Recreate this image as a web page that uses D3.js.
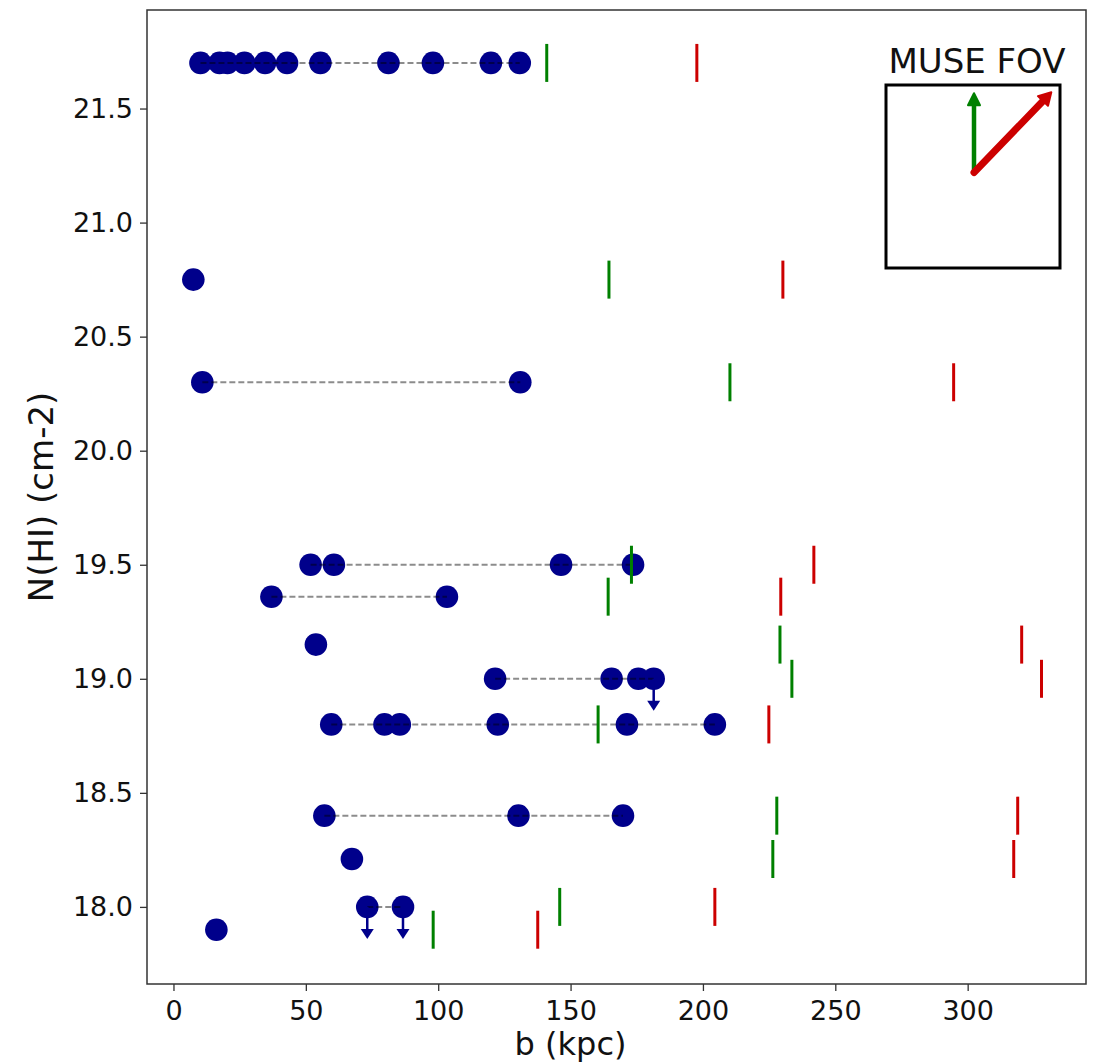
<!DOCTYPE html>
<html>
<head>
<meta charset="utf-8">
<script src="https://cdn.jsdelivr.net/npm/d3@7"></script>
<style>
  html, body { margin: 0; padding: 0; background: #fff; }
  svg { display: block; font-family: "DejaVu Sans", sans-serif; }
</style>
</head>
<body>
<svg id="chart" width="1094" height="1063"></svg>
<script>
// Column density of each absorber (log N(HI), cm-2)
const nhi = [21.7, 20.75, 20.3, 19.5, 19.36, 19.15, 19.0, 18.8, 18.4, 18.21, 18.0, 17.9];

// Impact parameters (kpc) of the galaxies found around each absorber
const impactParams = [
  [10.2, 17.4, 20.4, 26.8, 34.6, 42.9, 55.5, 81.2, 98.0, 119.9, 130.8],
  [7.5],
  [10.9, 131.0],
  [51.8, 60.6, 146.4, 173.6],
  [37.0, 103.3],
  [53.8],
  [121.5, 165.5, 175.6, 181.4],
  [59.6, 79.7, 85.5, 122.5, 171.3, 204.5],
  [57.0, 130.3, 169.8],
  [67.4],
  [73.2, 86.7],
  [16.2]
];

// Galaxies whose N(HI) is only an upper limit: [row index, impact parameter]
const upperLimits = [[6, 181.4], [10, 73.2], [10, 86.7]];

// MUSE field-of-view reach at each absorber redshift (kpc)
const fovHalfSide = [141.0, 164.5, 210.2, 173.0, 164.2, 229.1, 233.6, 160.4, 227.9, 226.4, 145.9, 98.1];
const fovHalfDiag = [197.7, 230.2, 294.7, 241.9, 229.4, 320.4, 327.9, 224.9, 318.9, 317.4, 204.5, 137.6];

const xTicks = [0, 50, 100, 150, 200, 250, 300];
const yTicks = [18.0, 18.5, 19.0, 19.5, 20.0, 20.5, 21.0, 21.5];

const svg = d3.select("#chart");
const frame = { left: 147, right: 1086, top: 10, bottom: 984 };

const x = d3.scaleLinear().domain([-10.0, 344.7]).range([frame.left, frame.right]);
const y = d3.scaleLinear().domain([17.662, 21.932]).range([frame.bottom, frame.top]);

const DOT = "#00008b", GREEN = "#008000", RED = "#cc0000";

// axes
const xAxis = svg.append("g")
  .attr("transform", `translate(0,${frame.bottom})`)
  .call(d3.axisBottom(x).tickValues(xTicks).tickFormat(d3.format("d")).tickSizeOuter(0).tickSize(7).tickPadding(5));
const yAxis = svg.append("g")
  .attr("transform", `translate(${frame.left},0)`)
  .call(d3.axisLeft(y).tickValues(yTicks).tickFormat(d3.format(".1f")).tickSizeOuter(0).tickSize(7).tickPadding(7));
[xAxis, yAxis].forEach(g => {
  g.select(".domain").remove();
  g.selectAll(".tick line").attr("stroke", "#333").attr("stroke-width", 1.3);
  g.selectAll(".tick text").attr("fill", "#111").style("font-size", "27px").style("font-family", "DejaVu Sans");
});
xAxis.selectAll(".tick text").attr("dy", "0.9em");

// frame
svg.append("rect")
  .attr("x", frame.left).attr("y", frame.top)
  .attr("width", frame.right - frame.left).attr("height", frame.bottom - frame.top)
  .attr("fill", "none").attr("stroke", "#333").attr("stroke-width", 1.5);

// axis titles
svg.append("text")
  .attr("x", x(150)).attr("y", 1055)
  .attr("text-anchor", "middle").style("font-size", "32px").attr("fill", "#111")
  .text("b (kpc)");
svg.append("text")
  .attr("transform", `translate(53,${(frame.top + frame.bottom) / 2}) rotate(-90)`)
  .attr("text-anchor", "middle").style("font-size", "34px").attr("fill", "#111")
  .text("N(HI) (cm-2)");

const plot = svg.append("g");

// galaxies
impactParams.forEach((bs, i) => {
  plot.selectAll(null).data(bs).enter().append("circle")
    .attr("cx", d => x(d)).attr("cy", y(nhi[i])).attr("r", 11.3)
    .attr("fill", DOT);
});

// dashed links between galaxies of the same absorber
impactParams.forEach((bs, i) => {
  if (bs.length < 2) return;
  plot.append("line")
    .attr("x1", x(d3.min(bs))).attr("x2", x(d3.max(bs)))
    .attr("y1", y(nhi[i])).attr("y2", y(nhi[i]))
    .attr("stroke", "#000").attr("stroke-opacity", 0.45)
    .attr("stroke-width", 2).attr("stroke-dasharray", "6,3");
});

// upper-limit arrows
upperLimits.forEach(([i, b]) => {
  const cx = x(b), cy = y(nhi[i]);
  plot.append("line")
    .attr("x1", cx).attr("x2", cx).attr("y1", cy).attr("y2", cy + 24)
    .attr("stroke", DOT).attr("stroke-width", 2.5);
  plot.append("path")
    .attr("d", `M${cx - 6.5},${cy + 22} L${cx + 6.5},${cy + 22} L${cx},${cy + 32} Z`)
    .attr("fill", DOT);
});

// FOV limits
const half = 19;
nhi.forEach((n, i) => {
  plot.append("line")
    .attr("x1", x(fovHalfSide[i])).attr("x2", x(fovHalfSide[i]))
    .attr("y1", y(n) - half).attr("y2", y(n) + half)
    .attr("stroke", GREEN).attr("stroke-width", 3);
  plot.append("line")
    .attr("x1", x(fovHalfDiag[i])).attr("x2", x(fovHalfDiag[i]))
    .attr("y1", y(n) - half).attr("y2", y(n) + half)
    .attr("stroke", RED).attr("stroke-width", 3);
});

// MUSE FOV sketch
const ix = d3.scaleLinear().domain([-1, 1]).range([886, 1060]);
const iy = d3.scaleLinear().domain([-1, 1]).range([268, 85]);
svg.append("text")
  .attr("x", 977).attr("y", 73)
  .attr("text-anchor", "middle").style("font-size", "34px").attr("fill", "#111")
  .text("MUSE FOV");
svg.append("rect")
  .attr("x", ix(-1)).attr("y", iy(1))
  .attr("width", ix(1) - ix(-1)).attr("height", iy(-1) - iy(1))
  .attr("fill", "none").attr("stroke", "#000").attr("stroke-width", 3);

function arrow(x0, y0, x1, y1, color, w, headL, headW) {
  const dx = x1 - x0, dy = y1 - y0, L = Math.hypot(dx, dy);
  const ux = dx / L, uy = dy / L;
  const bx = x1 - ux * headL, by = y1 - uy * headL;
  svg.append("line")
    .attr("x1", x0).attr("y1", y0).attr("x2", bx).attr("y2", by)
    .attr("stroke", color).attr("stroke-width", w).attr("stroke-linecap", "round");
  svg.append("path")
    .attr("d", `M${x1},${y1} L${bx - uy * headW},${by + ux * headW} L${bx + uy * headW},${by - ux * headW} Z`)
    .attr("fill", color).attr("stroke", color).attr("stroke-width", 2).attr("stroke-linejoin", "round");
}
const ox = ix(0) + 1, oy = iy(0) - 4;
arrow(ox, oy, ix(0) + 1, iy(0.91), GREEN, 4.5, 12, 6);
arrow(ox, oy, ix(0.9), iy(0.92), RED, 7, 12, 7);
</script>
</body>
</html>
